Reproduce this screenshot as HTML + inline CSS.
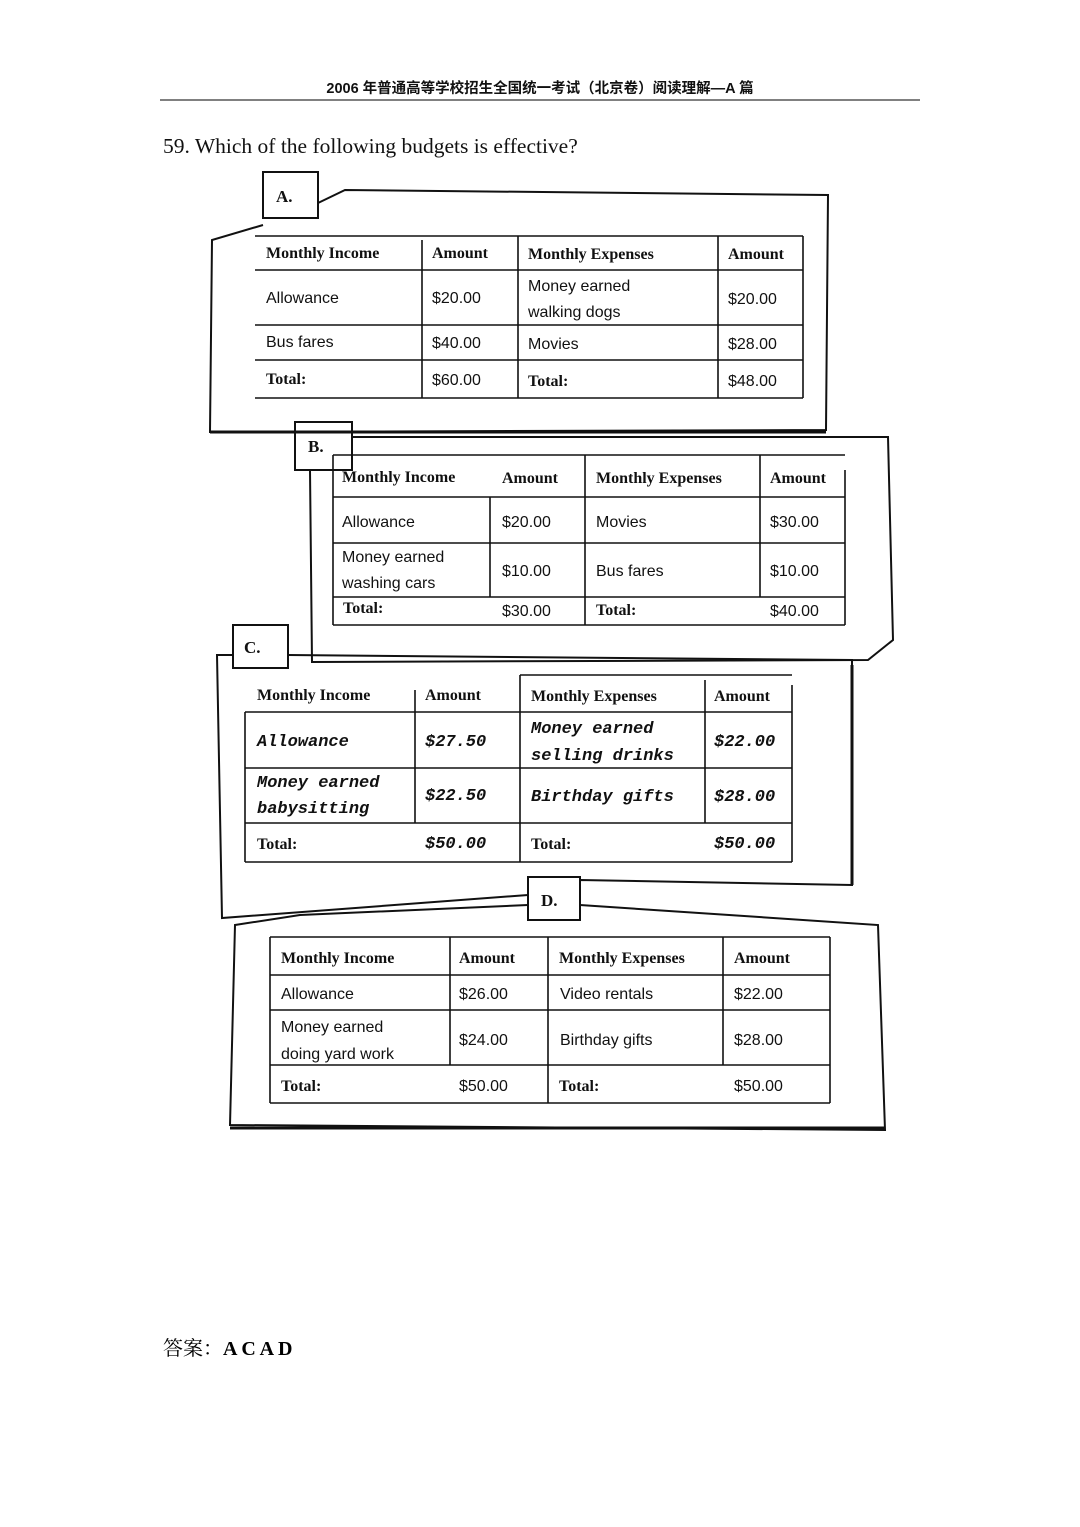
<!DOCTYPE html>
<html><head><meta charset="utf-8"><style>
body{margin:0;background:#fff;width:1080px;height:1527px;overflow:hidden}
svg{position:absolute;left:0;top:0}
</style></head><body>
<svg width="1080" height="1527" xmlns="http://www.w3.org/2000/svg">
<g font-family="'Liberation Sans','Noto Sans CJK SC',sans-serif">
<text x="540" y="93" font-size="14.5" font-weight="bold" text-anchor="middle" fill="#111">2006 年普通高等学校招生全国统一考试（北京卷）阅读理解—A 篇</text>
</g>
<line x1="160" y1="100" x2="920" y2="100" stroke="#000" stroke-width="1"/>
<text x="163" y="153" font-family="'Liberation Serif',serif" font-size="21.5" fill="#111">59. Which of the following budgets is effective?</text>
<text x="163" y="1355" font-family="'Liberation Serif','Noto Serif CJK SC',serif" font-size="20" fill="#000">答案：<tspan font-weight="bold">A C A D</tspan></text>

<g fill="none" stroke="#111" stroke-width="2">
<path d="M318,203 L345,190 L828,195 L826,430 L210,432 L212,240 L263,225"/>
<rect x="263" y="172" width="55" height="46" fill="#fff"/>
<path d="M352,437 L888,437 L893,640 L868,660 L312,662 L310,470"/>
<rect x="295" y="422" width="57" height="48" fill="#fff"/>
<path d="M288,655 L852,660 L852,885 L580,880 L528,895 L222,918 L217,655 L233,655"/>
<rect x="233" y="625" width="55" height="43" fill="#fff"/>
<path d="M528,905 L300,915 L235,925 L230,1125 L885,1130 L878,925 L580,905"/>
<rect x="528" y="877" width="52" height="43" fill="#fff"/>
</g>
<g stroke="#111" stroke-width="3" fill="none">
<line x1="210" y1="432" x2="826" y2="432"/>
<line x1="230" y1="1128" x2="885" y2="1128"/>
<line x1="852" y1="665" x2="852" y2="885"/>
</g>

<g font-family="'Liberation Serif',serif" font-weight="bold" font-size="17" fill="#111">
<text x="276" y="202">A.</text><text x="308" y="452">B.</text><text x="244" y="653">C.</text><text x="541" y="906">D.</text>
</g>

<g stroke="#111" stroke-width="1.6" fill="none">
<line x1="255" y1="236" x2="803" y2="236"/><line x1="255" y1="270" x2="803" y2="270"/>
<line x1="255" y1="325" x2="803" y2="325"/><line x1="255" y1="360" x2="803" y2="360"/>
<line x1="255" y1="398" x2="803" y2="398"/>
<line x1="422" y1="240" x2="422" y2="398"/><line x1="518" y1="236" x2="518" y2="398"/>
<line x1="718" y1="236" x2="718" y2="398"/><line x1="803" y1="236" x2="803" y2="398"/>
<line x1="333" y1="455" x2="845" y2="455"/><line x1="333" y1="497" x2="845" y2="497"/>
<line x1="333" y1="543" x2="845" y2="543"/><line x1="333" y1="597" x2="845" y2="597"/>
<line x1="333" y1="625" x2="845" y2="625"/>
<line x1="333" y1="455" x2="333" y2="625"/><line x1="490" y1="497" x2="490" y2="597"/>
<line x1="585" y1="455" x2="585" y2="625"/><line x1="760" y1="455" x2="760" y2="597"/>
<line x1="845" y1="470" x2="845" y2="625"/>
<line x1="245" y1="712" x2="792" y2="712"/><line x1="245" y1="768" x2="792" y2="768"/>
<line x1="245" y1="823" x2="792" y2="823"/><line x1="245" y1="862" x2="792" y2="862"/>
<line x1="520" y1="675" x2="792" y2="675"/>
<line x1="245" y1="712" x2="245" y2="862"/><line x1="415" y1="690" x2="415" y2="823"/>
<line x1="520" y1="675" x2="520" y2="862"/><line x1="705" y1="680" x2="705" y2="823"/>
<line x1="792" y1="685" x2="792" y2="862"/>
<line x1="270" y1="937" x2="830" y2="937"/><line x1="270" y1="975" x2="830" y2="975"/>
<line x1="270" y1="1010" x2="830" y2="1010"/><line x1="270" y1="1065" x2="830" y2="1065"/>
<line x1="270" y1="1103" x2="830" y2="1103"/>
<line x1="270" y1="937" x2="270" y2="1103"/><line x1="450" y1="937" x2="450" y2="1065"/>
<line x1="548" y1="937" x2="548" y2="1103"/><line x1="723" y1="937" x2="723" y2="1065"/>
<line x1="830" y1="937" x2="830" y2="1103"/>
</g>

<g font-family="'Liberation Serif',serif" font-size="16" fill="#111">
<g font-weight="bold">
<text x="266" y="258">Monthly Income</text><text x="432" y="258">Amount</text><text x="528" y="259">Monthly Expenses</text><text x="728" y="259">Amount</text>
<text x="266" y="384">Total:</text><text x="528" y="386">Total:</text>
<text x="342" y="482">Monthly Income</text><text x="502" y="483">Amount</text><text x="596" y="483">Monthly Expenses</text><text x="770" y="483">Amount</text>
<text x="343" y="613">Total:</text><text x="596" y="615">Total:</text>
<text x="257" y="700">Monthly Income</text><text x="425" y="700">Amount</text><text x="531" y="701">Monthly Expenses</text><text x="714" y="701">Amount</text>
<text x="257" y="849">Total:</text><text x="531" y="849">Total:</text>
<text x="281" y="963">Monthly Income</text><text x="459" y="963">Amount</text><text x="559" y="963">Monthly Expenses</text><text x="734" y="963">Amount</text>
<text x="281" y="1091">Total:</text><text x="559" y="1091">Total:</text>
</g>
<g font-family="'Liberation Sans',sans-serif" font-size="16">
<text x="266" y="303">Allowance</text><text x="432" y="303">$20.00</text><text x="528" y="291">Money earned</text><text x="528" y="317">walking dogs</text><text x="728" y="304">$20.00</text>
<text x="266" y="347">Bus fares</text><text x="432" y="348">$40.00</text><text x="528" y="349">Movies</text><text x="728" y="349">$28.00</text>
<text x="432" y="385">$60.00</text><text x="728" y="386">$48.00</text>
<text x="342" y="527">Allowance</text><text x="502" y="527">$20.00</text><text x="596" y="527">Movies</text><text x="770" y="527">$30.00</text>
<text x="342" y="562">Money earned</text><text x="342" y="588">washing cars</text><text x="502" y="576">$10.00</text><text x="596" y="576">Bus fares</text><text x="770" y="576">$10.00</text>
<text x="502" y="616">$30.00</text><text x="770" y="616">$40.00</text>
<text x="281" y="999">Allowance</text><text x="459" y="999">$26.00</text><text x="560" y="999">Video rentals</text><text x="734" y="999">$22.00</text>
<text x="281" y="1032">Money earned</text><text x="281" y="1059">doing yard work</text><text x="459" y="1045">$24.00</text><text x="560" y="1045">Birthday gifts</text><text x="734" y="1045">$28.00</text>
<text x="459" y="1091">$50.00</text><text x="734" y="1091">$50.00</text>
</g>
<g font-family="'Liberation Mono',monospace" font-style="italic" font-weight="bold" font-size="17">
<text x="257" y="746">Allowance</text><text x="425" y="746">$27.50</text><text x="531" y="733">Money earned</text><text x="531" y="760">selling drinks</text><text x="714" y="746">$22.00</text>
<text x="257" y="787">Money earned</text><text x="257" y="813">babysitting</text><text x="425" y="800">$22.50</text><text x="531" y="801">Birthday gifts</text><text x="714" y="801">$28.00</text>
<text x="425" y="848">$50.00</text><text x="714" y="848">$50.00</text>
</g>
</g>
</svg>
</body></html>
